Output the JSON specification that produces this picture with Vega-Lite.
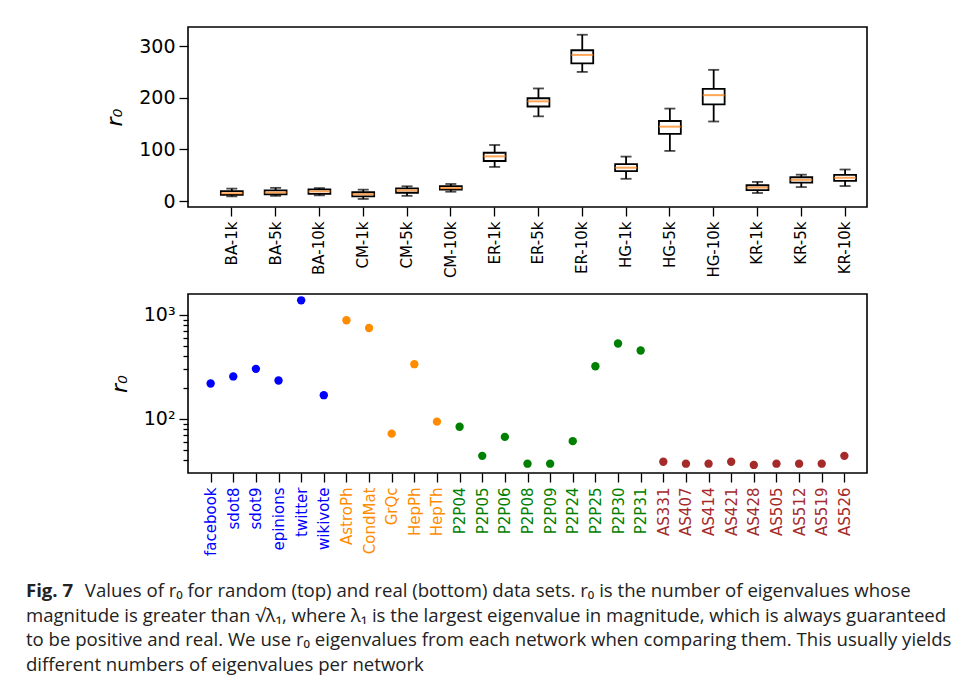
{
  "$schema": "https://vega.github.io/schema/vega-lite/v6.json",
  "background": "white",
  "padding": {"left": 25, "top": 26, "right": 4, "bottom": 10},
  "config": {
    "view": {"stroke": "black", "strokeWidth": 1.6},
    "axis": {
      "domain": false,
      "grid": false,
      "tickColor": "black",
      "tickWidth": 1.3,
      "labelColor": "black",
      "labelFont": "DejaVu Sans",
      "titleFont": "DejaVu Sans",
      "titleColor": "black",
      "titleFontWeight": "normal"
    }
  },
  "title": {
    "text": "Fig. 7",
    "subtitle": [
      "\u2060\u2003\u2003\u2003\u2009Values of r₀ for random (top) and real (bottom) data sets. r₀ is the number of eigenvalues whose",
      "magnitude is greater than √λ₁, where λ₁ is the largest eigenvalue in magnitude, which is always guaranteed",
      "to be positive and real. We use r₀ eigenvalues from each network when comparing them. This usually yields",
      "different numbers of eigenvalues per network"
    ],
    "orient": "bottom",
    "anchor": "start",
    "frame": "bounds",
    "font": "Open Sans",
    "fontSize": 18.6,
    "fontWeight": "bold",
    "color": "#222222",
    "subtitleFont": "Open Sans",
    "subtitleFontSize": 18.6,
    "subtitleColor": "#222222",
    "subtitleLineHeight": 24.6,
    "subtitlePadding": -18.6,
    "dx": -77,
    "offset": 26
  },
  "spacing": 14,
  "vconcat": [
    {
      "width": 679,
      "height": 180,
      "data": {
        "values": [
          {"net": "BA-1k", "low": 9, "q1": 12, "med": 15, "q3": 19, "high": 24},
          {"net": "BA-5k", "low": 10, "q1": 13, "med": 16.5, "q3": 20.5, "high": 25.5},
          {"net": "BA-10k", "low": 11, "q1": 14, "med": 18.5, "q3": 22.5, "high": 25},
          {"net": "CM-1k", "low": 4, "q1": 9, "med": 13, "q3": 17, "high": 22},
          {"net": "CM-5k", "low": 10, "q1": 16, "med": 20.5, "q3": 24.5, "high": 28.5},
          {"net": "CM-10k", "low": 18, "q1": 22, "med": 25, "q3": 29, "high": 33},
          {"net": "ER-1k", "low": 66, "q1": 77.5, "med": 86.5, "q3": 93.5, "high": 108.5},
          {"net": "ER-5k", "low": 164, "q1": 183, "med": 193, "q3": 199, "high": 218},
          {"net": "ER-10k", "low": 250, "q1": 266.5, "med": 283, "q3": 292, "high": 322},
          {"net": "HG-1k", "low": 43, "q1": 58, "med": 64.5, "q3": 71.5, "high": 86},
          {"net": "HG-5k", "low": 97, "q1": 130, "med": 144, "q3": 155, "high": 179},
          {"net": "HG-10k", "low": 154, "q1": 187, "med": 205, "q3": 217, "high": 254},
          {"net": "KR-1k", "low": 15.5, "q1": 21, "med": 26, "q3": 30.5, "high": 37},
          {"net": "KR-5k", "low": 27, "q1": 35.5, "med": 41, "q3": 46, "high": 51},
          {"net": "KR-10k", "low": 29, "q1": 39, "med": 45, "q3": 50.5, "high": 61}
        ]
      },
      "encoding": {
        "x": {
          "field": "net",
          "type": "nominal",
          "sort": null,
          "scale": {"type": "band", "paddingInner": 0.5, "paddingOuter": 0.5, "align": 0.75},
          "axis": {"title": null, "labelAngle": -90, "labelFontSize": 15, "tickSize": 9, "labelPadding": 5, "labelOverlap": false}
        }
      },
      "layer": [
        {
          "mark": {"type": "rule", "color": "black", "strokeWidth": 1.8},
          "encoding": {
            "y": {
              "field": "low",
              "type": "quantitative",
              "title": "r₀",
              "scale": {"domain": [-11.6, 337], "nice": false, "zero": false},
              "axis": {
                "values": [0, 100, 200, 300],
                "labelFontSize": 19,
                "tickSize": 9,
                "labelPadding": 4,
                "titleFontSize": 22,
                "titleFontStyle": "italic",
                "titlePadding": 12
              }
            },
            "y2": {"field": "q1"}
          }
        },
        {
          "mark": {"type": "rule", "color": "black", "strokeWidth": 1.8},
          "encoding": {
            "y": {"field": "q3", "type": "quantitative", "title": "r₀"},
            "y2": {"field": "high"}
          }
        },
        {
          "mark": {"type": "tick", "color": "black", "size": 11, "thickness": 1.8},
          "encoding": {"y": {"field": "low", "type": "quantitative", "title": "r₀"}}
        },
        {
          "mark": {"type": "tick", "color": "black", "size": 11, "thickness": 1.8},
          "encoding": {"y": {"field": "high", "type": "quantitative", "title": "r₀"}}
        },
        {
          "mark": {"type": "bar", "fill": "white", "stroke": "black", "strokeWidth": 1.8},
          "encoding": {
            "y": {"field": "q1", "type": "quantitative", "title": "r₀"},
            "y2": {"field": "q3"}
          }
        },
        {
          "mark": {"type": "tick", "color": "#ff7f0e", "size": 22, "thickness": 2},
          "encoding": {"y": {"field": "med", "type": "quantitative", "title": "r₀"}}
        }
      ]
    },
    {
      "width": 679,
      "height": 179,
      "data": {
        "values": [
          {"net": "facebook", "kind": "social", "r0": 219},
          {"net": "sdot8", "kind": "social", "r0": 256},
          {"net": "sdot9", "kind": "social", "r0": 303},
          {"net": "epinions", "kind": "social", "r0": 234},
          {"net": "twitter", "kind": "social", "r0": 1384},
          {"net": "wikivote", "kind": "social", "r0": 169},
          {"net": "AstroPh", "kind": "collaboration", "r0": 889},
          {"net": "CondMat", "kind": "collaboration", "r0": 750},
          {"net": "GrQc", "kind": "collaboration", "r0": 72},
          {"net": "HepPh", "kind": "collaboration", "r0": 336},
          {"net": "HepTh", "kind": "collaboration", "r0": 94},
          {"net": "P2P04", "kind": "p2p", "r0": 84},
          {"net": "P2P05", "kind": "p2p", "r0": 44},
          {"net": "P2P06", "kind": "p2p", "r0": 67},
          {"net": "P2P08", "kind": "p2p", "r0": 37},
          {"net": "P2P09", "kind": "p2p", "r0": 37},
          {"net": "P2P24", "kind": "p2p", "r0": 61},
          {"net": "P2P25", "kind": "p2p", "r0": 321},
          {"net": "P2P30", "kind": "p2p", "r0": 531},
          {"net": "P2P31", "kind": "p2p", "r0": 455},
          {"net": "AS331", "kind": "as", "r0": 38.6},
          {"net": "AS407", "kind": "as", "r0": 37},
          {"net": "AS414", "kind": "as", "r0": 37},
          {"net": "AS421", "kind": "as", "r0": 38.6},
          {"net": "AS428", "kind": "as", "r0": 36},
          {"net": "AS505", "kind": "as", "r0": 37},
          {"net": "AS512", "kind": "as", "r0": 37},
          {"net": "AS519", "kind": "as", "r0": 37},
          {"net": "AS526", "kind": "as", "r0": 44}
        ]
      },
      "mark": {"type": "circle", "size": 70, "opacity": 1},
      "encoding": {
        "x": {
          "field": "net",
          "type": "nominal",
          "sort": null,
          "scale": {"type": "point", "padding": 1.4},
          "axis": {
            "title": null,
            "labelAngle": -90,
            "labelFontSize": 15,
            "tickSize": 9,
            "labelPadding": 5,
            "labelOverlap": false,
            "labelColor": {
              "condition": [
                {"test": "indexof(['AstroPh','CondMat','GrQc','HepPh','HepTh'], datum.value) >= 0", "value": "darkorange"},
                {"test": "indexof(datum.value, 'P2P') == 0", "value": "green"},
                {"test": "indexof(datum.value, 'AS') == 0", "value": "brown"}
              ],
              "value": "blue"
            }
          }
        },
        "y": {
          "field": "r0",
          "type": "quantitative",
          "title": "r₀",
          "scale": {"type": "log", "domain": [30.1, 1592], "nice": false},
          "axis": {
            "values": [40, 50, 60, 70, 80, 90, 100, 200, 300, 400, 500, 600, 700, 800, 900, 1000],
            "labelExpr": "datum.value == 100 ? '10²' : datum.value == 1000 ? '10³' : ''",
            "labelOverlap": false,
            "labelFontSize": 19,
            "labelPadding": 4,
            "tickSize": {"condition": {"test": "datum.value == 100 || datum.value == 1000", "value": 9}, "value": 5},
            "titleFontSize": 22,
            "titleFontStyle": "italic",
            "titlePadding": 12
          }
        },
        "color": {
          "field": "kind",
          "type": "nominal",
          "scale": {"domain": ["social", "collaboration", "p2p", "as"], "range": ["blue", "darkorange", "green", "brown"]},
          "legend": null
        }
      }
    }
  ]
}
